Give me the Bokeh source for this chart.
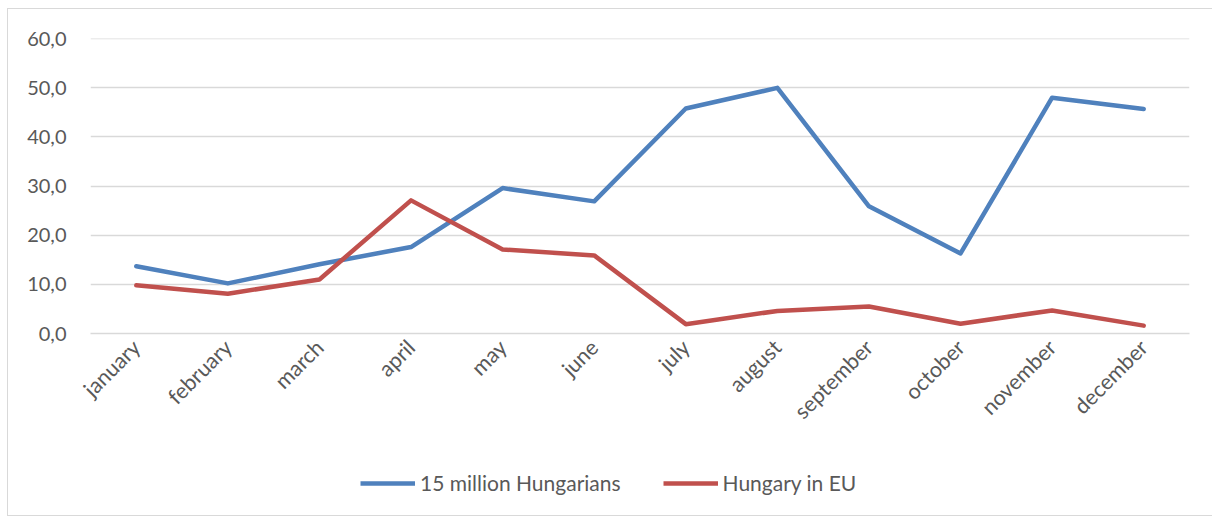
from bokeh.plotting import figure
from bokeh.models import Range1d, FixedTicker, Legend, LegendItem
from bokeh.layouts import column
from bokeh.embed import file_html
from bokeh.resources import INLINE
import math

months = ["january", "february", "march", "april", "may", "june", "july",
          "august", "september", "october", "november", "december"]
hungarians15 = [13.7, 10.2, 14.1, 17.6, 29.6, 26.9, 45.8, 50.0, 25.9, 16.3, 48.0, 45.7]
hungary_eu = [9.8, 8.1, 11.0, 27.1, 17.1, 15.9, 1.9, 4.6, 5.5, 2.0, 4.7, 1.6]
y_ticks = [0, 10, 20, 30, 40, 50, 60]
y_tick_labels = ["0,0", "10,0", "20,0", "30,0", "40,0", "50,0", "60,0"]
series_names = ["15 million Hungarians", "Hungary in EU"]

FONT = "Lato"
TXT = "#595959"
GRID = "#d9d9d9"
BLUE = "#4f81bd"
RED = "#c0504d"
W = 1205

p = figure(x_range=months, y_range=Range1d(0, 60.05), width=W, height=450,
           output_backend="svg", toolbar_location=None,
           min_border_left=82, min_border_right=24, min_border_top=29,
           min_border_bottom=126)
p.outline_line_color = None
p.border_fill_color = "white"

p.line(months, hungarians15, line_color=BLUE, line_width=4.5,
       line_join="round", line_cap="round")
p.line(months, hungary_eu, line_color=RED, line_width=4.5,
       line_join="round", line_cap="round")

p.yaxis.ticker = FixedTicker(ticks=y_ticks)
p.yaxis.major_label_overrides = dict(zip(y_ticks, y_tick_labels))
for ax in (p.xaxis, p.yaxis):
    ax.major_tick_line_color = None
    ax.minor_tick_line_color = None
    ax.major_label_text_font = FONT
    ax.major_label_text_color = TXT
p.yaxis.major_label_text_font_size = "20px"
p.xaxis.major_label_text_font_size = "21.5px"
p.yaxis.axis_line_color = None
p.yaxis.major_label_standoff = 18
p.xaxis.axis_line_color = GRID
p.xaxis.axis_line_width = 1.5
p.xaxis.major_label_orientation = math.pi / 4
p.xaxis.major_label_standoff = 4

p.xgrid.grid_line_color = None
p.ygrid.grid_line_color = GRID
p.ygrid.grid_line_width = 1.5

# legend strip
lg = figure(width=W, height=56, output_backend="svg", toolbar_location=None,
            x_range=Range1d(0, 1), y_range=Range1d(0, 1),
            min_border=0)
lg.axis.visible = False
lg.grid.visible = False
lg.outline_line_color = None
l1 = lg.line([0.5], [0.5], line_color=BLUE, line_width=4.5)
l2 = lg.line([0.5], [0.5], line_color=RED, line_width=4.5)
legend = Legend(items=[LegendItem(label=series_names[0], renderers=[l1]),
                       LegendItem(label=series_names[1], renderers=[l2])],
                orientation="horizontal", location=(270, 20),
                label_text_font=FONT, label_text_font_size="21px",
                label_text_color=TXT, glyph_width=55, glyph_height=20,
                spacing=42, label_standoff=5, border_line_color=None,
                background_fill_alpha=0, margin=0, padding=5)
lg.add_layout(legend, "center")

layout = column(p, lg, spacing=0)
layout.styles = {"border": "1.5px solid #d9d9d9", "margin-left": "7px",
                 "margin-top": "8px", "box-sizing": "border-box"}

open("out.html", "w").write(file_html(layout, INLINE))
